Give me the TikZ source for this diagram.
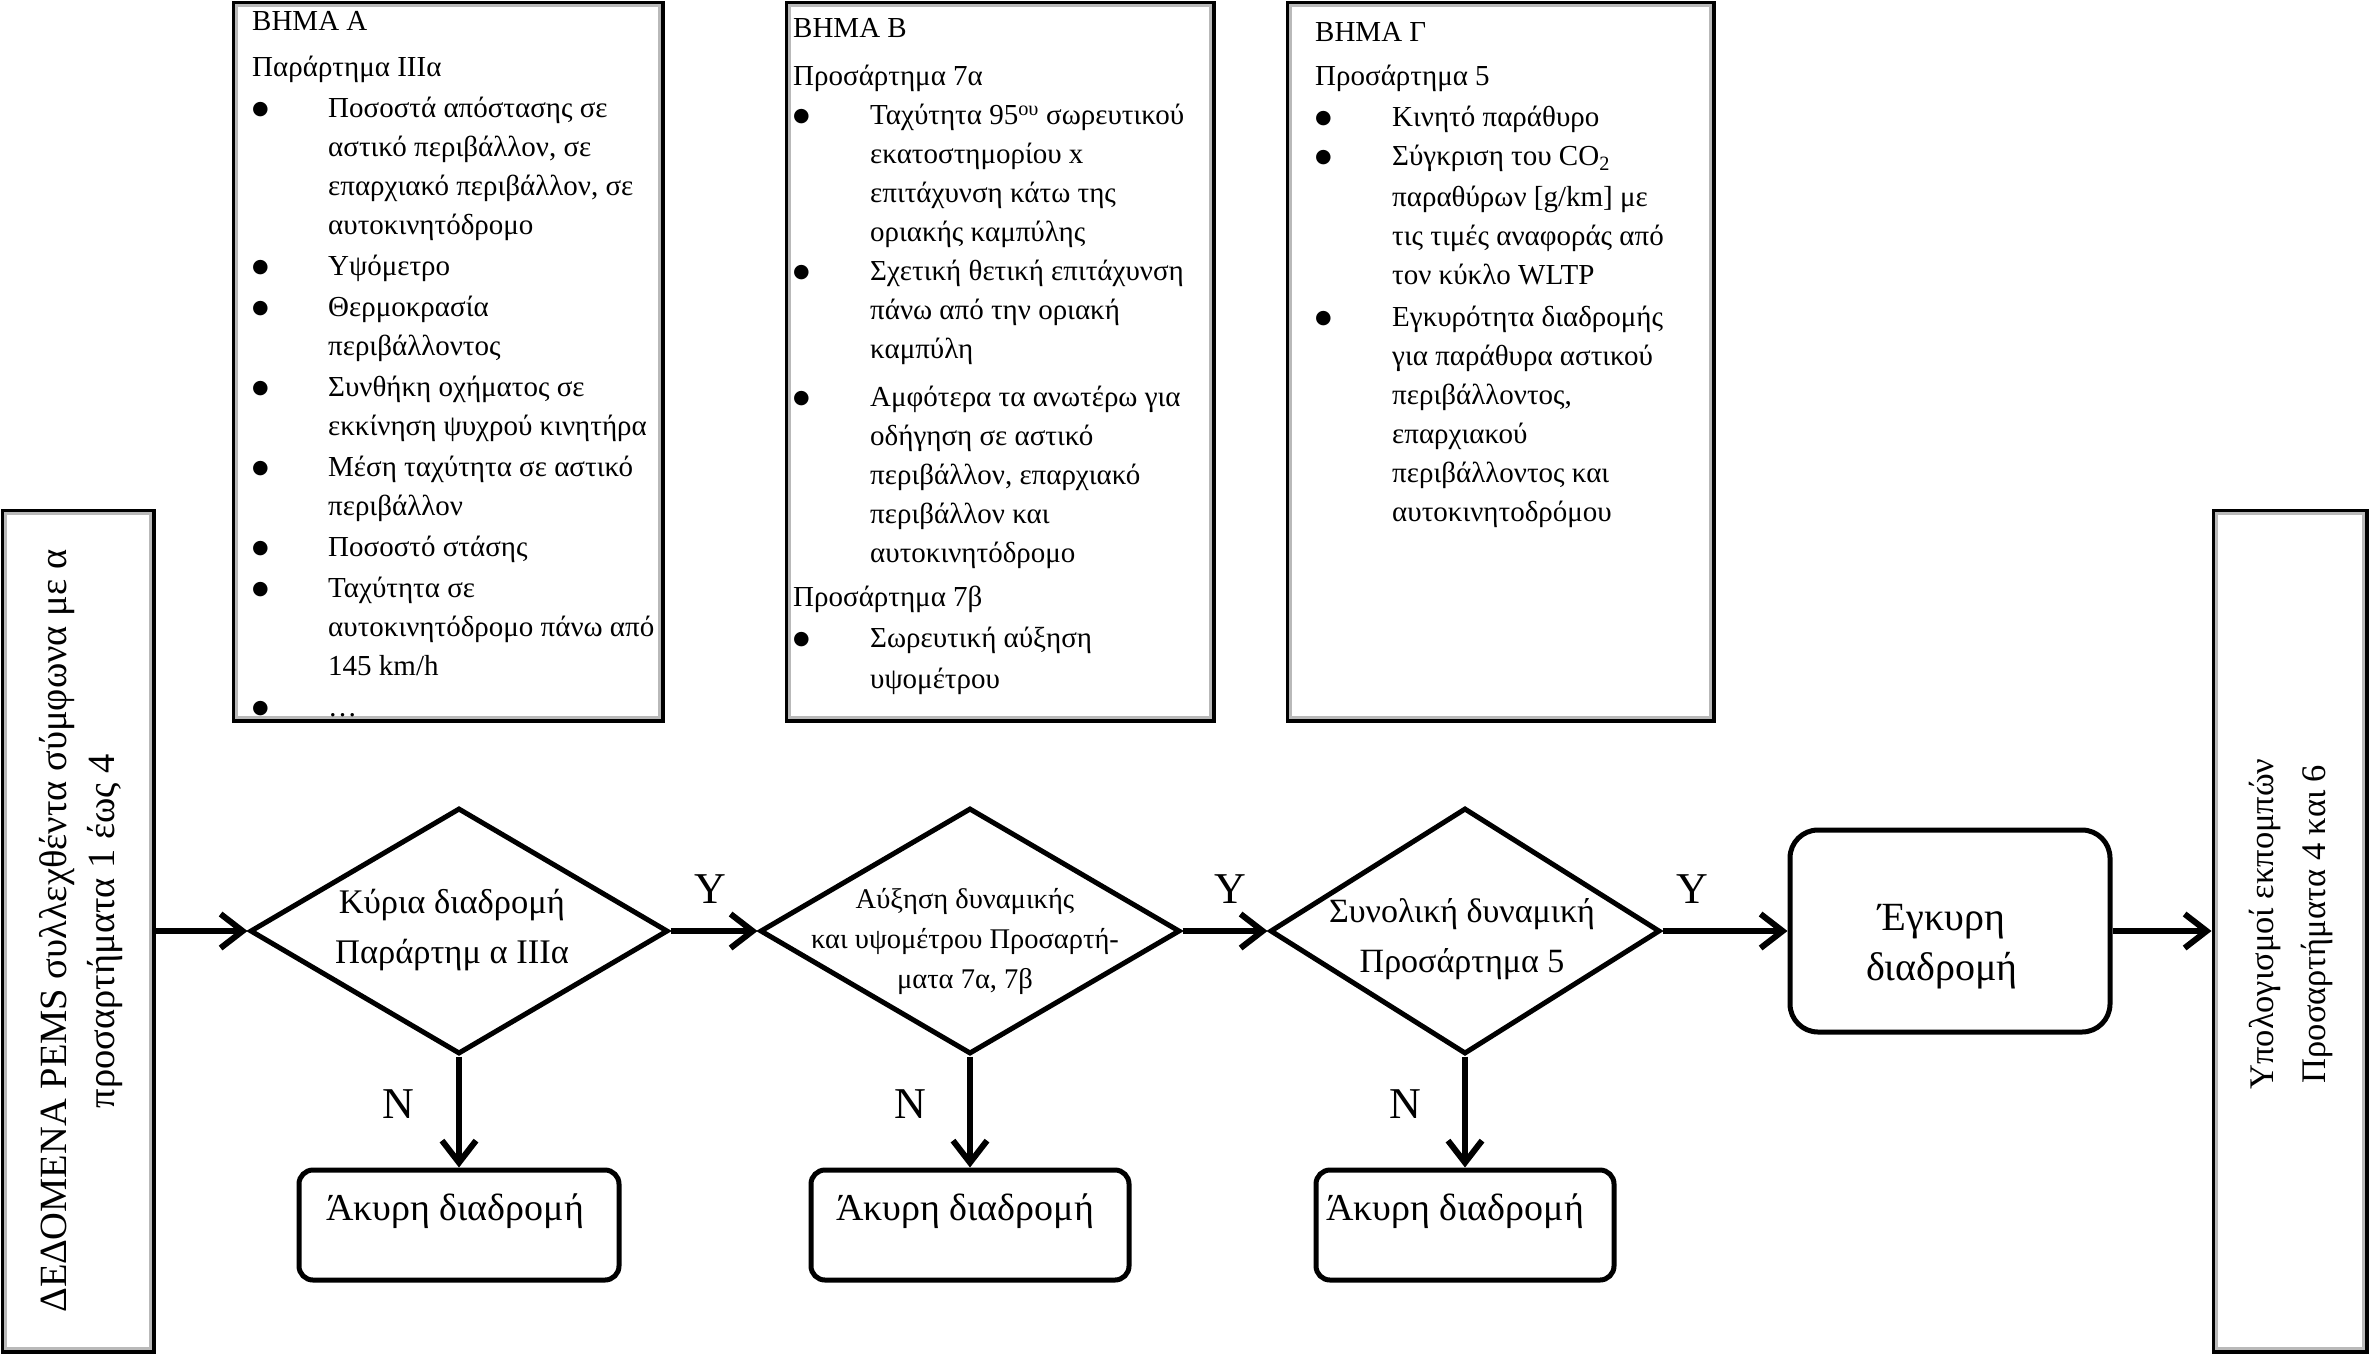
\documentclass[tikz,border=0pt]{standalone}
\usepackage{fontspec}
\setmainfont{Liberation Serif}
\newfontfamily\symfont{DejaVu Sans}
\usetikzlibrary{arrows.meta,shapes.geometric}
\newcommand\bul{\raisebox{3pt}{\symfont\fontsize{19}{19}\selectfont ●}}
\begin{document}
\begin{tikzpicture}[x=1pt,y=-1pt,
  frame/.style={draw, line width=5pt, inner sep=0pt},
  inset/.style={draw=gray!55, line width=2.5pt},
  dia/.style={draw, shape=diamond, line width=5pt, inner sep=0pt, minimum width=#1, minimum height=246pt},
  rbox/.style={draw, line width=5pt, rounded corners=#1, inner sep=0pt},
  arr/.style={line width=6pt, -{Straight Barb[length=22pt,width=34pt]}},
  boxtxt/.style={anchor=north west, inner sep=0pt, font=\fontsize{29}{39}\selectfont},
  yn/.style={anchor=base, inner sep=0pt, font=\fontsize{44}{50}\selectfont}
]
\useasboundingbox (0,0) rectangle (2371,1361);

% top boxes
\node[frame, minimum width=428pt, minimum height=717pt] (A) at (448,361.5) {};
\node[frame, minimum width=426pt, minimum height=717pt] (B) at (1000,361.5) {};
\node[frame, minimum width=425pt, minimum height=717pt] (C) at (1500.5,361.5) {};
\foreach \b in {A,B,C}
  \draw[inset] ([shift={(5,5)}]\b.north west) rectangle ([shift={(-5,-5)}]\b.south east);

\node[boxtxt] (tA) at (252,2.7) {\begin{tabular}{@{}p{76pt}@{}l@{}}
\multicolumn{2}{@{}l@{}}{ΒΗΜΑ Α}\\[7pt]
\multicolumn{2}{@{}l@{}}{Παράρτημα IIIα}\\[2pt]
\bul & Ποσοστά απόστασης σε\\
& αστικό περιβάλλον, σε\\
& επαρχιακό περιβάλλον, σε\\
& αυτοκινητόδρομο\\[2pt]
\bul & Υψόμετρο\\[2pt]
\bul & Θερμοκρασία\\
& περιβάλλοντος\\[2pt]
\bul & Συνθήκη οχήματος σε\\
& εκκίνηση ψυχρού κινητήρα\\[2pt]
\bul & Μέση ταχύτητα σε αστικό\\
& περιβάλλον\\[2pt]
\bul & Ποσοστό στάσης\\[2pt]
\bul & Ταχύτητα σε\\
& αυτοκινητόδρομο πάνω από\\
& 145 km/h\\[2pt]
\bul & …
\end{tabular}};

\node[boxtxt] (tB) at (793,9.7) {\begin{tabular}{@{}p{77pt}@{}l@{}}
\multicolumn{2}{@{}l@{}}{ΒΗΜΑ Β}\\[9pt]
\multicolumn{2}{@{}l@{}}{Προσάρτημα 7α}\\
\bul & Ταχύτητα 95\textsuperscript{ου} σωρευτικού\\
& εκατοστημορίου x\\
& επιτάχυνση κάτω της\\
& οριακής καμπύλης\\
\bul & Σχετική θετική επιτάχυνση\\
& πάνω από την οριακή\\
& καμπύλη\\[9pt]
\bul & Αμφότερα τα ανωτέρω για\\
& οδήγηση σε αστικό\\
& περιβάλλον, επαρχιακό\\
& περιβάλλον και\\
& αυτοκινητόδρομο\\[5pt]
\multicolumn{2}{@{}l@{}}{Προσάρτημα 7β}\\[2pt]
\bul & Σωρευτική αύξηση\\[2pt]
& υψομέτρου
\end{tabular}};

\node[boxtxt] (tC) at (1315,13.7) {\begin{tabular}{@{}p{77pt}@{}l@{}}
\multicolumn{2}{@{}l@{}}{ΒΗΜΑ Γ}\\[5pt]
\multicolumn{2}{@{}l@{}}{Προσάρτημα 5}\\[2pt]
\bul & Κινητό παράθυρο\\
\bul & Σύγκριση του CO\textsubscript{2}\\[2pt]
& παραθύρων [g/km] με\\
& τις τιμές αναφοράς από\\
& τον κύκλο WLTP\\[3pt]
\bul & Εγκυρότητα διαδρομής\\
& για παράθυρα αστικού\\
& περιβάλλοντος,\\
& επαρχιακού\\
& περιβάλλοντος και\\
& αυτοκινητοδρόμου
\end{tabular}};

% side boxes
\node[frame, minimum width=150pt, minimum height=840pt] (L) at (78,931) {};
\node[frame, minimum width=152pt, minimum height=840pt] (R) at (2290,931) {};
\foreach \b in {L,R}
  \draw[inset] ([shift={(5,5)}]\b.north west) rectangle ([shift={(-5,-5)}]\b.south east);
\node[rotate=90, inner sep=0pt, font=\fontsize{38.5}{48}\selectfont] (Lt) at (81,931)
  {\begin{tabular}{@{}c@{}}ΔΕΔΟΜΕΝΑ PEMS συλλεχθέντα σύμφωνα με α\\προσαρτήματα 1 έως 4\end{tabular}};
\node[rotate=90, inner sep=0pt, font=\fontsize{34.5}{52}\selectfont] (Rt) at (2289,924)
  {\begin{tabular}{@{}c@{}}Υπολογισμοί εκπομπών\\Προσαρτήματα 4 και 6\end{tabular}};

% decisions
\node[dia=418pt] (d1) at (459,931) {};
\node[dia=420pt] (d2) at (970,931) {};
\node[dia=390pt] (d3) at (1465,931) {};
\node[inner sep=0pt, font=\fontsize{34.5}{50}\selectfont] (d1t) at (452,928)
  {\begin{tabular}{@{}c@{}}Κύρια διαδρομή\\Παράρτημ α IIIα\end{tabular}};
\node[inner sep=0pt, font=\fontsize{28.5}{40}\selectfont] (d2t) at (965,940)
  {\begin{tabular}{@{}c@{}}Αύξηση δυναμικής\\και υψομέτρου Προσαρτή-\\ματα 7α, 7β\end{tabular}};
\node[inner sep=0pt, font=\fontsize{34}{50}\selectfont] (d3t) at (1462,937)
  {\begin{tabular}{@{}c@{}}Συνολική δυναμική\\Προσάρτημα 5\end{tabular}};

% valid route
\node[rbox=28pt, minimum width=320pt, minimum height=202pt] (V) at (1950,931) {};
\node[inner sep=0pt, font=\fontsize{40}{50}\selectfont] (Vt) at (1942,945)
  {\begin{tabular}{@{}c@{}}Έγκυρη\\διαδρομή\end{tabular}};

% invalid routes
\node[rbox=14pt, minimum width=320pt, minimum height=110pt] (i1) at (459,1225) {};
\node[rbox=14pt, minimum width=318pt, minimum height=110pt] (i2) at (970,1225) {};
\node[rbox=14pt, minimum width=298pt, minimum height=110pt] (i3) at (1465,1225) {};
\node[anchor=base, inner sep=0pt, font=\fontsize{38}{44}\selectfont] (i1t) at (455,1220) {Άκυρη διαδρομή};
\node[anchor=base, inner sep=0pt, font=\fontsize{38}{44}\selectfont] (i2t) at (965,1220) {Άκυρη διαδρομή};
\node[anchor=base, inner sep=0pt, font=\fontsize{38}{44}\selectfont] (i3t) at (1455,1220) {Άκυρη διαδρομή};

% connectors
\draw[arr] (L.east) -- (d1.west);
\draw[arr] (d1.east) -- (d2.west);
\draw[arr] (d2.east) -- (d3.west);
\draw[arr] (d3.east) -- (V.west);
\draw[arr] (V.east) -- (R.west);
\draw[arr] (d1.south) -- (i1.north);
\draw[arr] (d2.south) -- (i2.north);
\draw[arr] (d3.south) -- (i3.north);

% labels
\node[yn] (y1) at (710,903) {Y};
\node[yn] (y2) at (1230,903) {Y};
\node[yn] (y3) at (1692,903) {Y};
\node[yn] (n1) at (398,1118) {N};
\node[yn] (n2) at (910,1118) {N};
\node[yn] (n3) at (1405,1118) {N};
\end{tikzpicture}
\end{document}
